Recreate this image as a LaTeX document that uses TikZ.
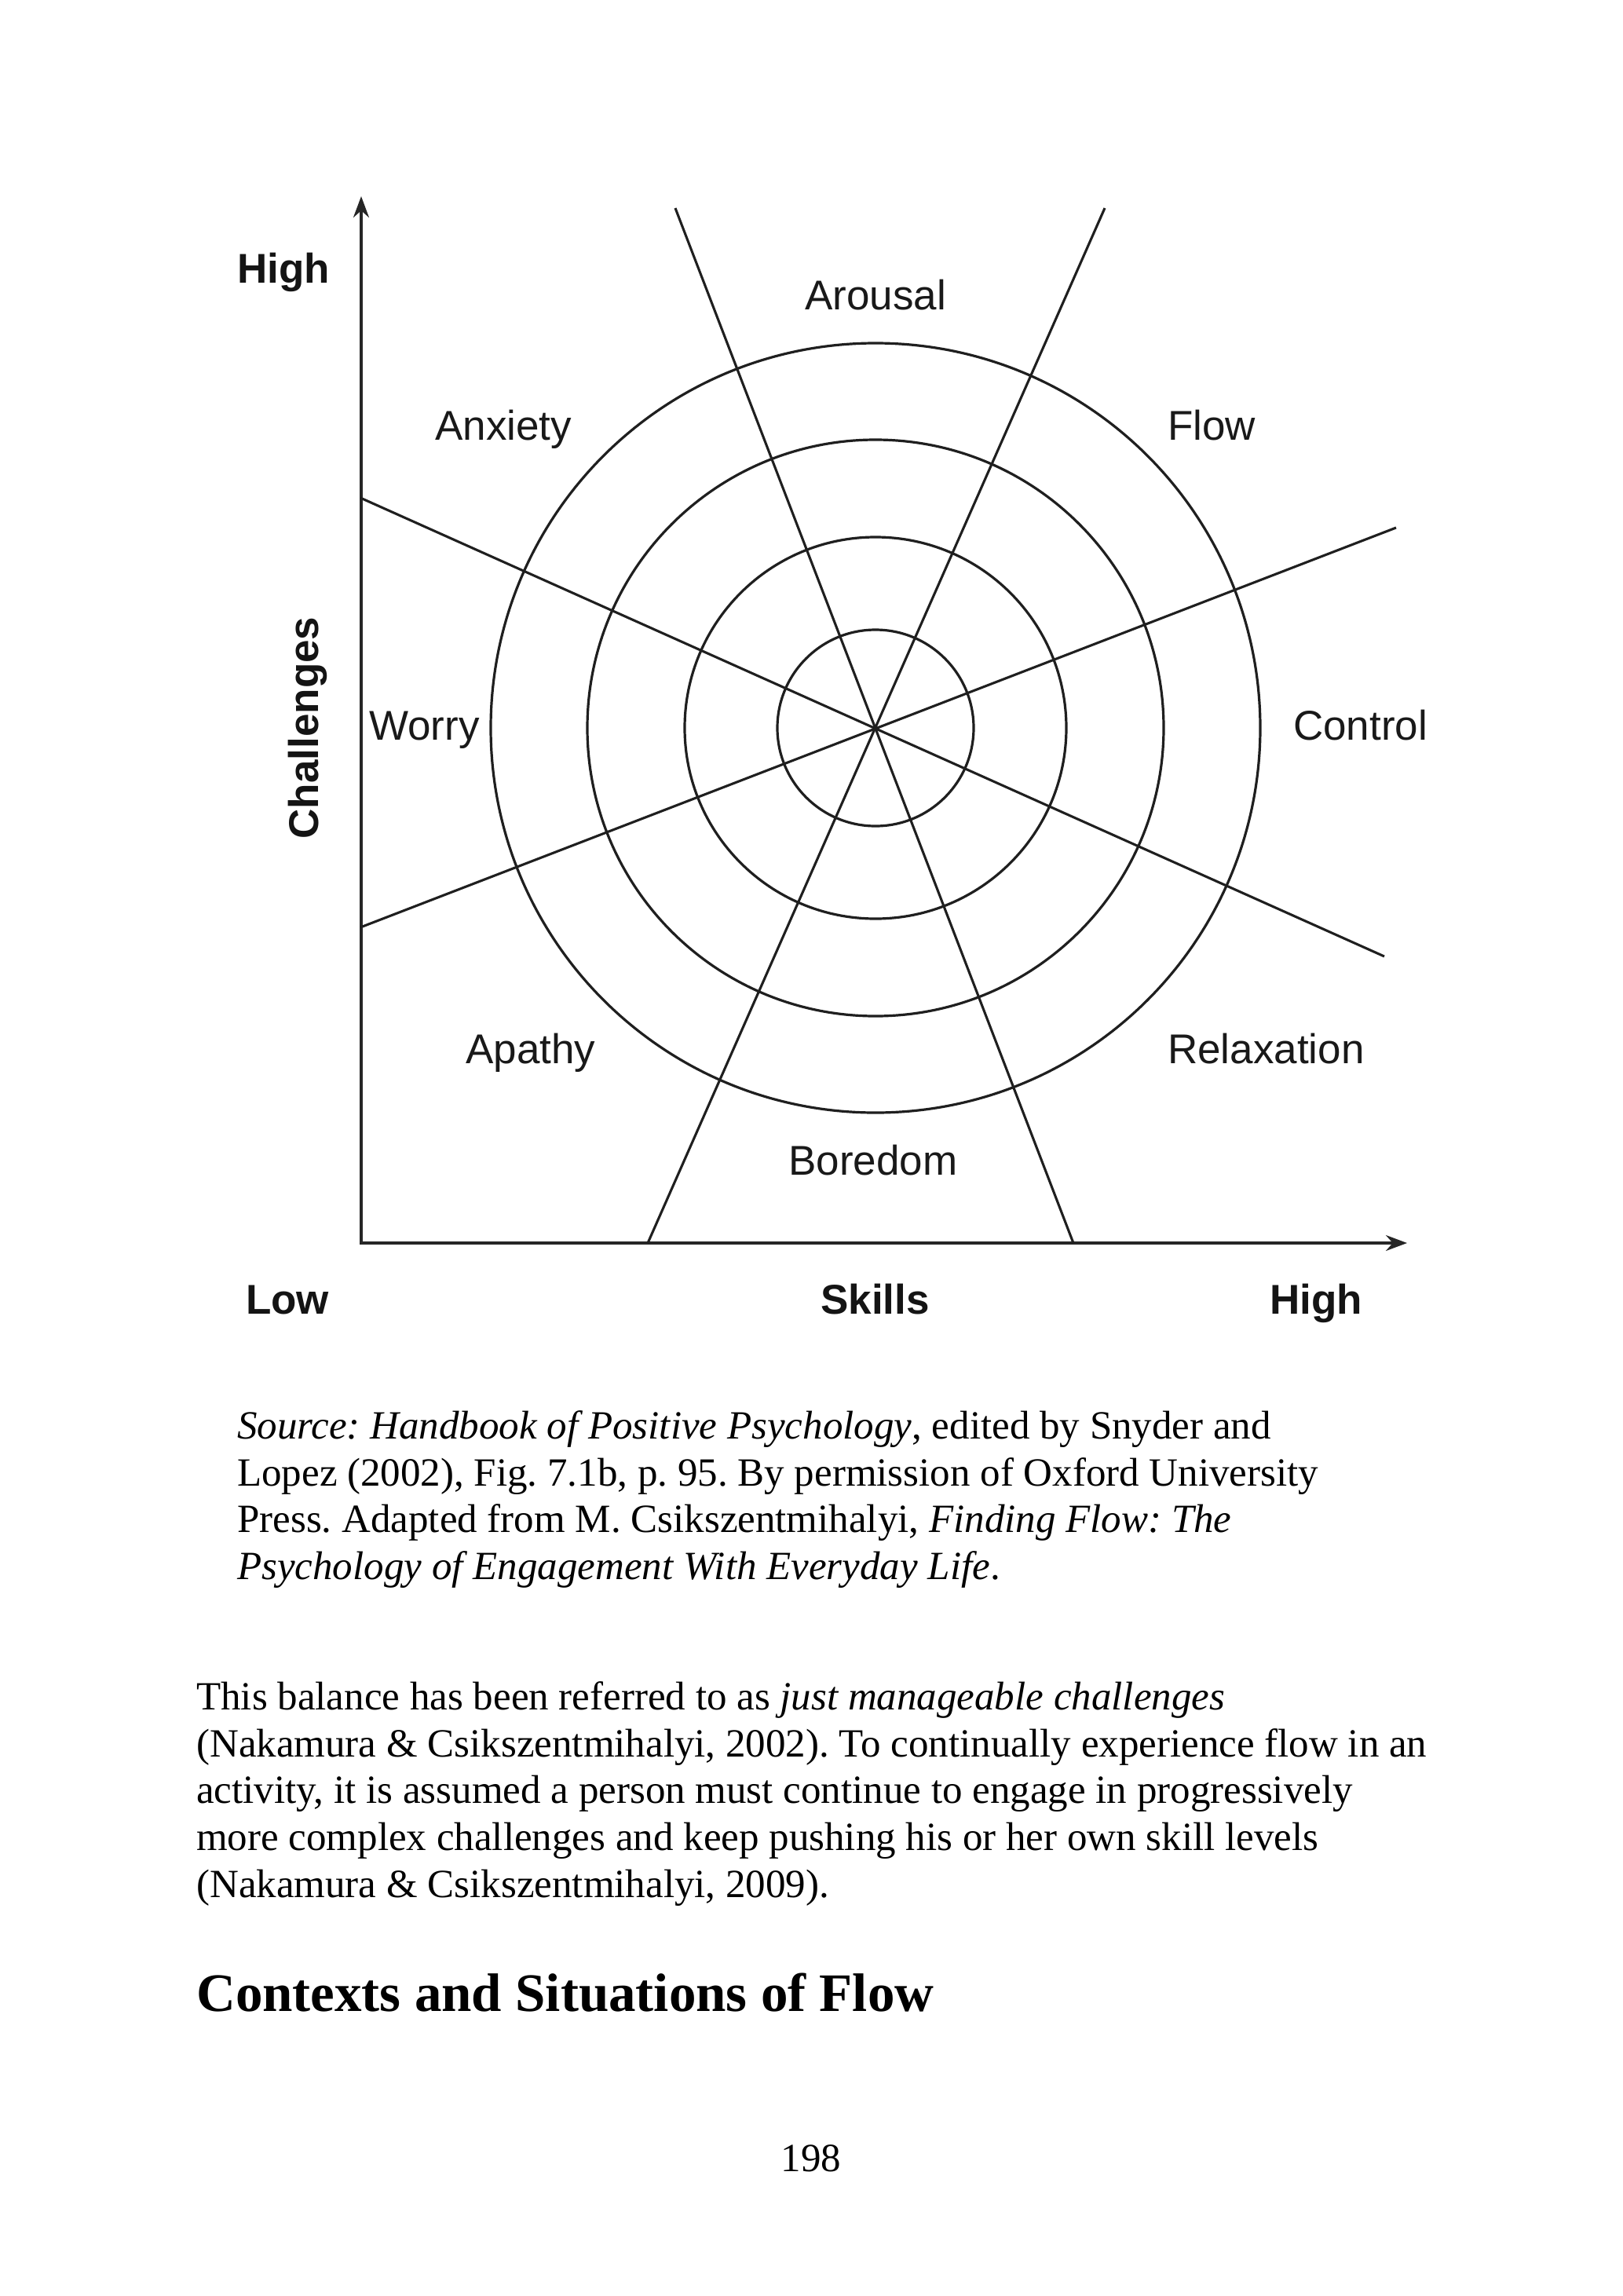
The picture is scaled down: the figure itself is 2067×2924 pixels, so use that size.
\documentclass[tikz,border=0pt]{standalone}
\usepackage{fontspec}
\setmainfont{Liberation Serif}
\newfontfamily\labfont{Liberation Sans}
\usetikzlibrary{arrows.meta}
\frenchspacing
\begin{document}
\begin{tikzpicture}[x=1pt,y=-1pt,
  lab/.style={font=\labfont\fontsize{53}{60}\selectfont, anchor=base west, inner sep=0pt, text=black!90},
  axlab/.style={font=\labfont\bfseries\fontsize{53}{60}\selectfont, anchor=base west, inner sep=0pt, text=black!92},
  body/.style={font=\fontsize{51}{60}\selectfont, anchor=base west, inner sep=0pt},
  spoke/.style={line width=3.1pt, draw=black!88},
  ring/.style={line width=3.2pt, draw=black!88},
  axis/.style={line width=3.2pt, draw=black!85, line join=miter,
    {Stealth[length=27pt,width=20pt]}-{Stealth[length=27pt,width=20pt]}}
]
\useasboundingbox[fill=white] (0,0) rectangle (2067,2924);

% axes
\coordinate (O) at (460,1583);
\coordinate (ytop) at (460,250);
\coordinate (xend) at (1792,1583);
\draw[axis] (ytop) -- (O) -- (xend);

% centre and rings
\coordinate (M) at (1115,927);
\draw[ring] (M) circle[radius=125pt];
\draw[ring] (M) circle[radius=243pt];
\draw[ring] (M) circle[radius=367pt];
\draw[ring] (M) circle[radius=490pt];

% spokes
\coordinate (a1) at (860,265);   \coordinate (a2) at (1367,1583);
\coordinate (b1) at (1407,265);  \coordinate (b2) at (825,1583);
\coordinate (c1) at (1778,672);  \coordinate (c2) at (459,1181);
\coordinate (d1) at (459,634);   \coordinate (d2) at (1763,1218);
\draw[spoke] (a1) -- (a2);
\draw[spoke] (b1) -- (b2);
\draw[spoke] (c1) -- (c2);
\draw[spoke] (d1) -- (d2);

% axis labels
\node[axlab] (hiy) at (302,360) {High};
\node[axlab] (low) at (313,1673) {Low};
\node[axlab] (skills) at (1045,1673) {Skills};
\node[axlab] (hix) at (1617,1673) {High};
\node[axlab, anchor=base, rotate=90] (chal) at (405,927) {Challenges};

% region labels
\node[lab] (arousal) at (1025,394) {Arousal};
\node[lab] (anxiety) at (554,560) {Anxiety};
\node[lab] (flow) at (1487,560) {Flow};
\node[lab] (worry) at (470,942) {Worry};
\node[lab] (control) at (1647,942) {Control};
\node[lab] (apathy) at (593,1354) {Apathy};
\node[lab] (relax) at (1487,1354) {Relaxation};
\node[lab] (boredom) at (1004,1496) {Boredom};

% caption
\node[body] (cap1) at (302,1832) {\textit{Source: Handbook of Positive Psychology}, edited by Snyder and};
\node[body] (cap2) at (302,1892) {Lopez (2002), Fig. 7.1b, p. 95. By permission of Oxford University};
\node[body] (cap3) at (302,1951) {Press. Adapted from M. Csikszentmihalyi, \textit{Finding Flow: The}};
\node[body] (cap4) at (302,2011) {\textit{Psychology of Engagement With Everyday Life}.};

% body text
\node[body] (p1) at (250,2177) {This balance has been referred to as \textit{just manageable challenges}};
\node[body] (p2) at (250,2237) {(Nakamura \& Csikszentmihalyi, 2002). To continually experience flow in an};
\node[body] (p3) at (250,2296) {activity, it is assumed a person must continue to engage in progressively};
\node[body] (p4) at (250,2356) {more complex challenges and keep pushing his or her own skill levels};
\node[body] (p5) at (250,2416) {(Nakamura \& Csikszentmihalyi, 2009).};

% heading
\node[body, font=\bfseries\fontsize{69}{80}\selectfont] (head) at (250,2561) {Contexts and Situations of Flow};

% page number
\node[body, anchor=base] (pnum) at (1033,2765) {198};
\end{tikzpicture}
\end{document}
